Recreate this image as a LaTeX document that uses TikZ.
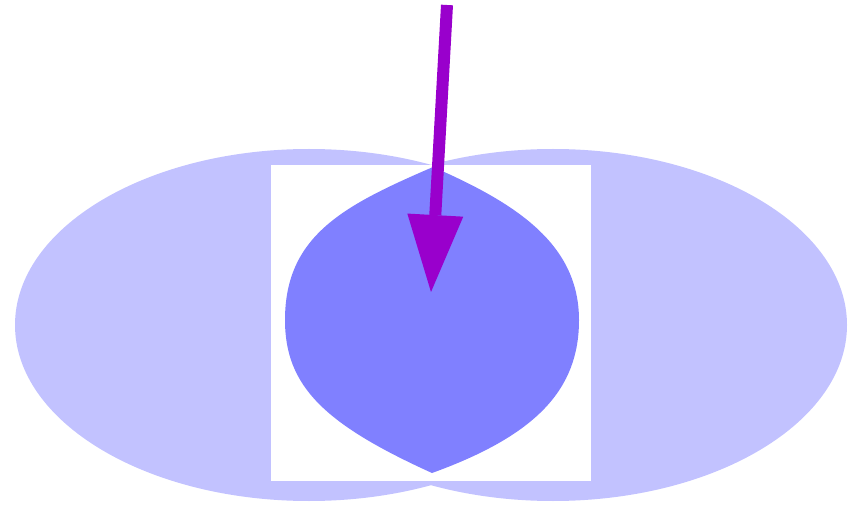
\documentclass[tikz,border=0pt]{standalone}
\usetikzlibrary{arrows.meta}
\definecolor{lightb}{HTML}{C2C2FF}
\definecolor{lensb}{HTML}{8080FF}
\definecolor{arrowp}{HTML}{9900CC}
\tikzset{
  lobe/.style={fill=lightb},
  lens/.style={fill=lensb},
  pointer/.style={draw=arrowp, line width=12pt,
    -{Triangle[length=77pt,width=56pt,line width=0pt,fill=arrowp]}}
}
\begin{document}
\begin{tikzpicture}[x=1pt,y=-1pt]
\useasboundingbox (0,0) rectangle (860,505);
% two overlapping ellipses
\path[lobe] (309,325) ellipse [x radius=294, y radius=176];
\path[lobe] (553,325) ellipse [x radius=294, y radius=176];
% white square
\fill[white] (271,165) rectangle (591,481);
% lens
\path[lens] (433,167) .. controls (345,205) and (285,235) .. (285,320)
  .. controls (285,386) and (324,424) .. (432,473)
  .. controls (537,435) and (579,389) .. (579,320)
  .. controls (579,245) and (518,204) .. (433,167) -- cycle;
% arrow
\coordinate (s) at (447,5);
\coordinate (t) at (431,292);
\draw[pointer] (s) -- (t);
\end{tikzpicture}
\end{document}
